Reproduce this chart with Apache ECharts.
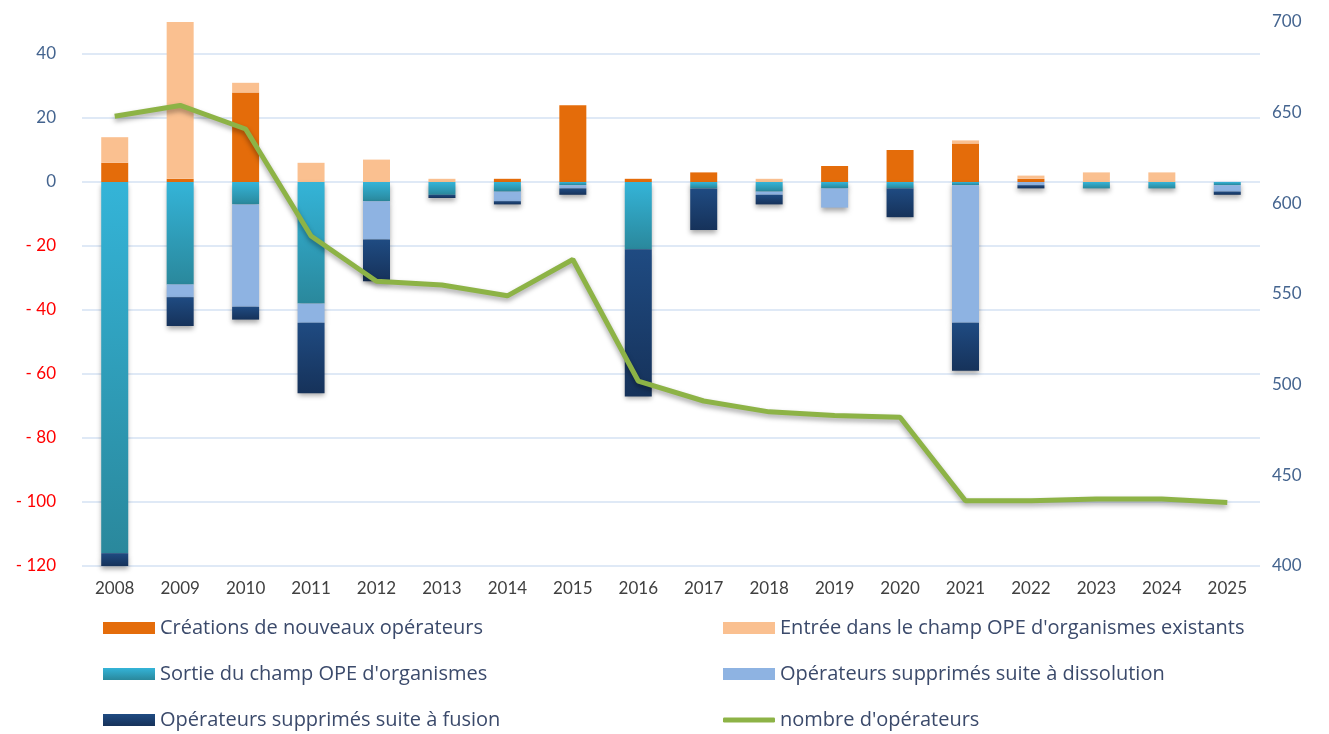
<!DOCTYPE html>
<html>
<head>
<meta charset="utf-8">
<style>
  html, body { margin: 0; padding: 0; background: #fff; }
  #main { width: 1329px; height: 734px; }
</style>
<script src="https://cdn.jsdelivr.net/npm/echarts@6/dist/echarts.min.js"></script>
</head>
<body>
<div id="main"></div>
<script>
// données
const years = ['2008', '2009', '2010', '2011', '2012', '2013', '2014', '2015', '2016',
  '2017', '2018', '2019', '2020', '2021', '2022', '2023', '2024', '2025'];
const creations = [6, 1, 28, 0, 0, 0, 1, 24, 1, 3, 0, 5, 10, 12, 1, 0, 0, 0];
const entrees = [8, 49, 3, 6, 7, 1, 0, 0, 0, 0, 1, 0, 0, 1, 1, 3, 3, 0];
const sorties = [-116, -32, -7, -38, -6, -4, -3, -1, -21, -2, -3, -2, -2, -1, 0, -2, -2, -1];
const dissolutions = [0, -4, -32, -6, -12, 0, -3, -1, 0, 0, -1, -6, 0, -43, -1, 0, 0, -2];
const fusions = [-4, -9, -4, -22, -13, -1, -1, -2, -46, -13, -3, 0, -9, -15, -1, 0, 0, -1];
const nbOperateurs = [648, 654, 641, 582, 557, 555, 549, 569, 502, 491, 485, 483, 482, 436, 436, 437, 437, 435];

const font = 'Lato, "Open Sans", sans-serif';
const shadow = { shadowColor: 'rgba(0,0,0,0.35)', shadowBlur: 5, shadowOffsetY: 3 };

function grad(top, bottom) {
  return new echarts.graphic.LinearGradient(0, 0, 0, 1, [
    { offset: 0, color: top }, { offset: 1, color: bottom }
  ]);
}

function barSerie(name, data, color, withShadow) {
  return {
    name: name,
    type: 'bar',
    stack: 'total',
    barWidth: 27,
    data: data,
    itemStyle: Object.assign({ color: color }, withShadow ? shadow : {})
  };
}

var myChart = echarts.init(document.getElementById('main'));

const legendBase = {
  itemWidth: 52,
  itemHeight: 12,
  padding: 0,
  icon: 'rect',
  textStyle: { fontFamily: '"Open Sans", sans-serif', fontSize: 20, color: '#3B4A6B' }
};
function legendAt(name, left, top, extra) {
  return Object.assign({}, legendBase, { data: [name], left: left, top: top }, extra || {});
}

var option = {
  backgroundColor: '#fff',
  animation: false,
  grid: { left: 82, right: 69, top: 22, bottom: 168 },
  legend: [
    legendAt('Créations de nouveaux opérateurs', 103, 618),
    legendAt('Entrée dans le champ OPE d\'organismes existants', 723, 618),
    legendAt('Sortie du champ OPE d\'organismes', 103, 664),
    legendAt('Opérateurs supprimés suite à dissolution', 723, 664),
    legendAt('Opérateurs supprimés suite à fusion', 103, 710),
    legendAt('nombre d\'opérateurs', 723, 710, { icon: 'roundRect', itemHeight: 5 })
  ],
  xAxis: {
    type: 'category',
    data: years,
    axisLine: { show: false },
    axisTick: { show: false },
    axisLabel: { fontFamily: font, fontSize: 17, color: '#404040', margin: 14 }
  },
  yAxis: [
    {
      type: 'value',
      min: -120,
      max: 50,
      interval: 20,
      axisLine: { show: false },
      axisTick: { show: false },
      splitLine: { showMaxLine: false, lineStyle: { color: '#D5E2F3', width: 1.5 } },
      axisLabel: {
        showMaxLabel: false,
        margin: 26,
        fontFamily: font,
        fontSize: 17,
        color: function (v) { return v < 0 ? '#FF0000' : '#44648F'; },
        formatter: function (v) { return v < 0 ? '- ' + (-v) : String(v); }
      }
    },
    {
      type: 'value',
      min: 400,
      max: 700,
      interval: 50,
      position: 'right',
      axisLine: { show: false },
      axisTick: { show: false },
      splitLine: { show: false },
      axisLabel: { margin: 12, fontFamily: font, fontSize: 17, color: '#44648F' }
    }
  ],
  series: [
    barSerie('Créations de nouveaux opérateurs', creations, '#E46C0A', false),
    barSerie('Entrée dans le champ OPE d\'organismes existants', entrees, '#FAC090', false),
    barSerie('Sortie du champ OPE d\'organismes', sorties, grad('#34B4D8', '#2A889C'), true),
    barSerie('Opérateurs supprimés suite à dissolution', dissolutions, '#8EB3E2', true),
    barSerie('Opérateurs supprimés suite à fusion', fusions, grad('#1F4B82', '#16325A'), true),
    {
      name: 'nombre d\'opérateurs',
      type: 'line',
      yAxisIndex: 1,
      data: nbOperateurs,
      symbol: 'none',
      z: 5,
      itemStyle: { color: '#8DB346' },
      lineStyle: Object.assign({ color: '#8DB346', width: 5 }, shadow)
    }
  ]
};

myChart.setOption(option);
</script>
</body>
</html>
